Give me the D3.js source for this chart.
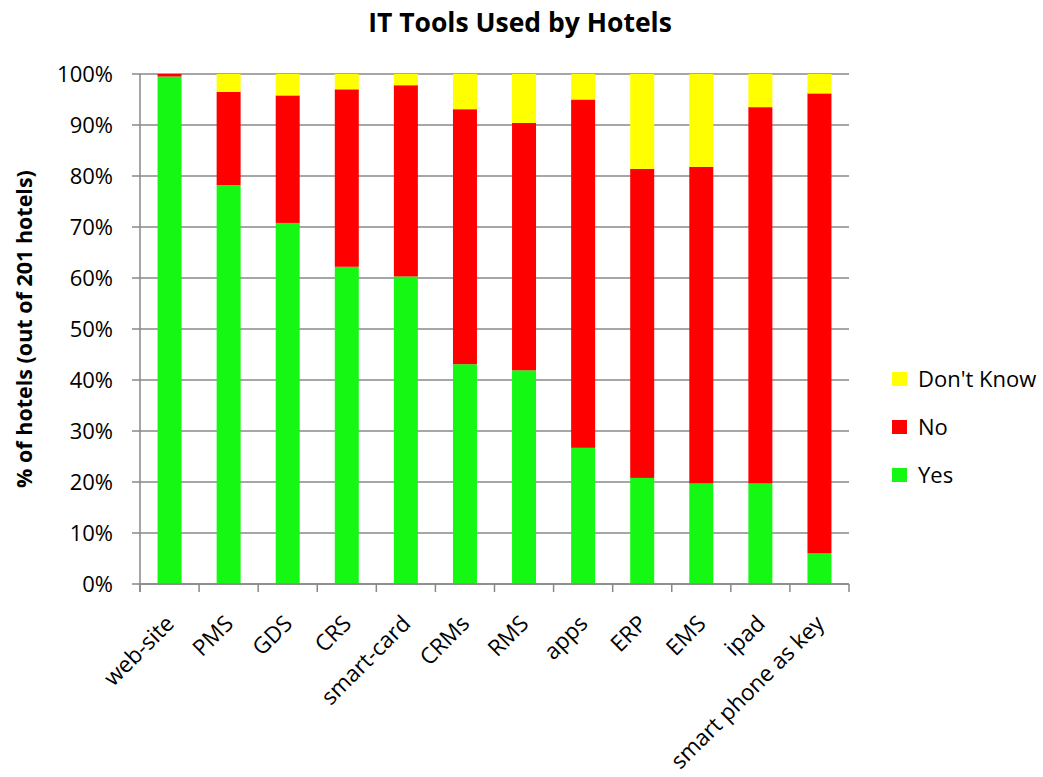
<!DOCTYPE html>
<html>
<head>
<meta charset="utf-8">
<script src="https://cdn.jsdelivr.net/npm/d3@7"></script>
<style>
  body { margin: 0; background: #fff; }
  text { font-family: "Open Sans", Lato, sans-serif; fill: #000; }
</style>
</head>
<body>
<div id="chart"></div>
<script>
// IT tools used by hotels - stacked 100% bars
const tools = ["web-site", "PMS", "GDS", "CRS", "smart-card", "CRMs", "RMS", "apps", "ERP", "EMS", "ipad", "smart phone as key"];
const yesValues = [99.5, 78.2, 70.8, 62.2, 60.3, 43.1, 41.9, 26.7, 20.8, 19.7, 19.7, 6.0];
const noValues = [0.5, 18.3, 25.0, 34.8, 37.5, 50.0, 48.5, 68.3, 60.6, 62.1, 73.8, 90.2];
const dontKnowValues = [0.0, 3.5, 4.2, 3.0, 2.2, 6.9, 9.6, 5.0, 18.6, 18.2, 6.5, 3.8];
const seriesNames = ["Yes", "No", "Don't Know"];
const seriesColors = ["#14f814", "#ff0000", "#ffff00"];
const yTicks = [0, 10, 20, 30, 40, 50, 60, 70, 80, 90, 100];

const width = 1043, height = 777;
const margin = { left: 140, right: 194, top: 74, bottom: 193 };

const rows = tools.map((t, i) => ({
  tool: t,
  "Yes": yesValues[i],
  "No": noValues[i],
  "Don't Know": dontKnowValues[i]
}));
const stacked = d3.stack().keys(seriesNames)(rows);

const svg = d3.select("#chart").append("svg")
  .attr("width", width)
  .attr("height", height);

const pad = 0.594;
const x = d3.scaleBand()
  .domain(tools)
  .range([margin.left, width - margin.right])
  .paddingInner(pad)
  .paddingOuter(pad / 2);

const y = d3.scaleLinear()
  .domain([0, 100])
  .range([height - margin.bottom, margin.top]);

const color = d3.scaleOrdinal().domain(seriesNames).range(seriesColors);

// gridlines (with small outside tick on the left)
svg.append("g")
  .selectAll("line")
  .data(yTicks)
  .join("line")
  .attr("x1", margin.left - 8)
  .attr("x2", width - margin.right)
  .attr("y1", d => y(d))
  .attr("y2", d => y(d))
  .attr("stroke", "#888")
  .attr("stroke-width", 1.5);

// bars
svg.append("g")
  .selectAll("g")
  .data(stacked)
  .join("g")
  .attr("fill", d => color(d.key))
  .selectAll("rect")
  .data(d => d)
  .join("rect")
  .attr("x", d => x(d.data.tool))
  .attr("width", x.bandwidth())
  .attr("y", d => y(d[1]))
  .attr("height", d => y(d[0]) - y(d[1]));

// y axis line
svg.append("line")
  .attr("x1", margin.left).attr("x2", margin.left)
  .attr("y1", y(0) + 8).attr("y2", y(100))
  .attr("stroke", "#888").attr("stroke-width", 1.5);

// x axis line + ticks at band edges
svg.append("line")
  .attr("x1", margin.left).attr("x2", width - margin.right)
  .attr("y1", y(0)).attr("y2", y(0))
  .attr("stroke", "#888").attr("stroke-width", 1.5);

const step = x.step();
const edges = d3.range(tools.length + 1).map(i => margin.left + i * step);
svg.append("g")
  .selectAll("line")
  .data(edges)
  .join("line")
  .attr("x1", d => d).attr("x2", d => d)
  .attr("y1", y(0)).attr("y2", y(0) + 8)
  .attr("stroke", "#888").attr("stroke-width", 1.5);

// y tick labels
svg.append("g")
  .selectAll("text")
  .data(yTicks)
  .join("text")
  .attr("x", 113)
  .attr("y", d => y(d))
  .attr("dy", "0.35em")
  .attr("text-anchor", "end")
  .attr("font-size", "22px")
  .text(d => d + "%");

// x tick labels, rotated
svg.append("g")
  .selectAll("text")
  .data(tools)
  .join("text")
  .attr("transform", d => `translate(${x(d) + x.bandwidth() / 2 + 6},${y(0) + 41}) rotate(-45)`)
  .attr("text-anchor", "end")
  .attr("font-size", "22.5px")
  .text(d => d);

// title
svg.append("text")
  .attr("x", 520)
  .attr("y", 32)
  .attr("text-anchor", "middle")
  .attr("font-size", "26.5px")
  .attr("font-weight", "bold")
  .text("IT Tools Used by Hotels");

// y axis title
svg.append("text")
  .attr("transform", `translate(32,${y(50)}) rotate(-90)`)
  .attr("text-anchor", "middle")
  .attr("font-size", "21.5px")
  .attr("font-weight", "bold")
  .text("% of hotels (out of 201 hotels)");

// legend
const legendItems = ["Don't Know", "No", "Yes"];
const legend = svg.append("g")
  .selectAll("g")
  .data(legendItems)
  .join("g")
  .attr("transform", (d, i) => `translate(892,${372 + i * 48})`);

legend.append("rect")
  .attr("width", 15)
  .attr("height", 14)
  .attr("fill", d => color(d));

legend.append("text")
  .attr("x", 26)
  .attr("y", 15)
  .attr("font-size", "22px")
  .text(d => d);
</script>
</body>
</html>
